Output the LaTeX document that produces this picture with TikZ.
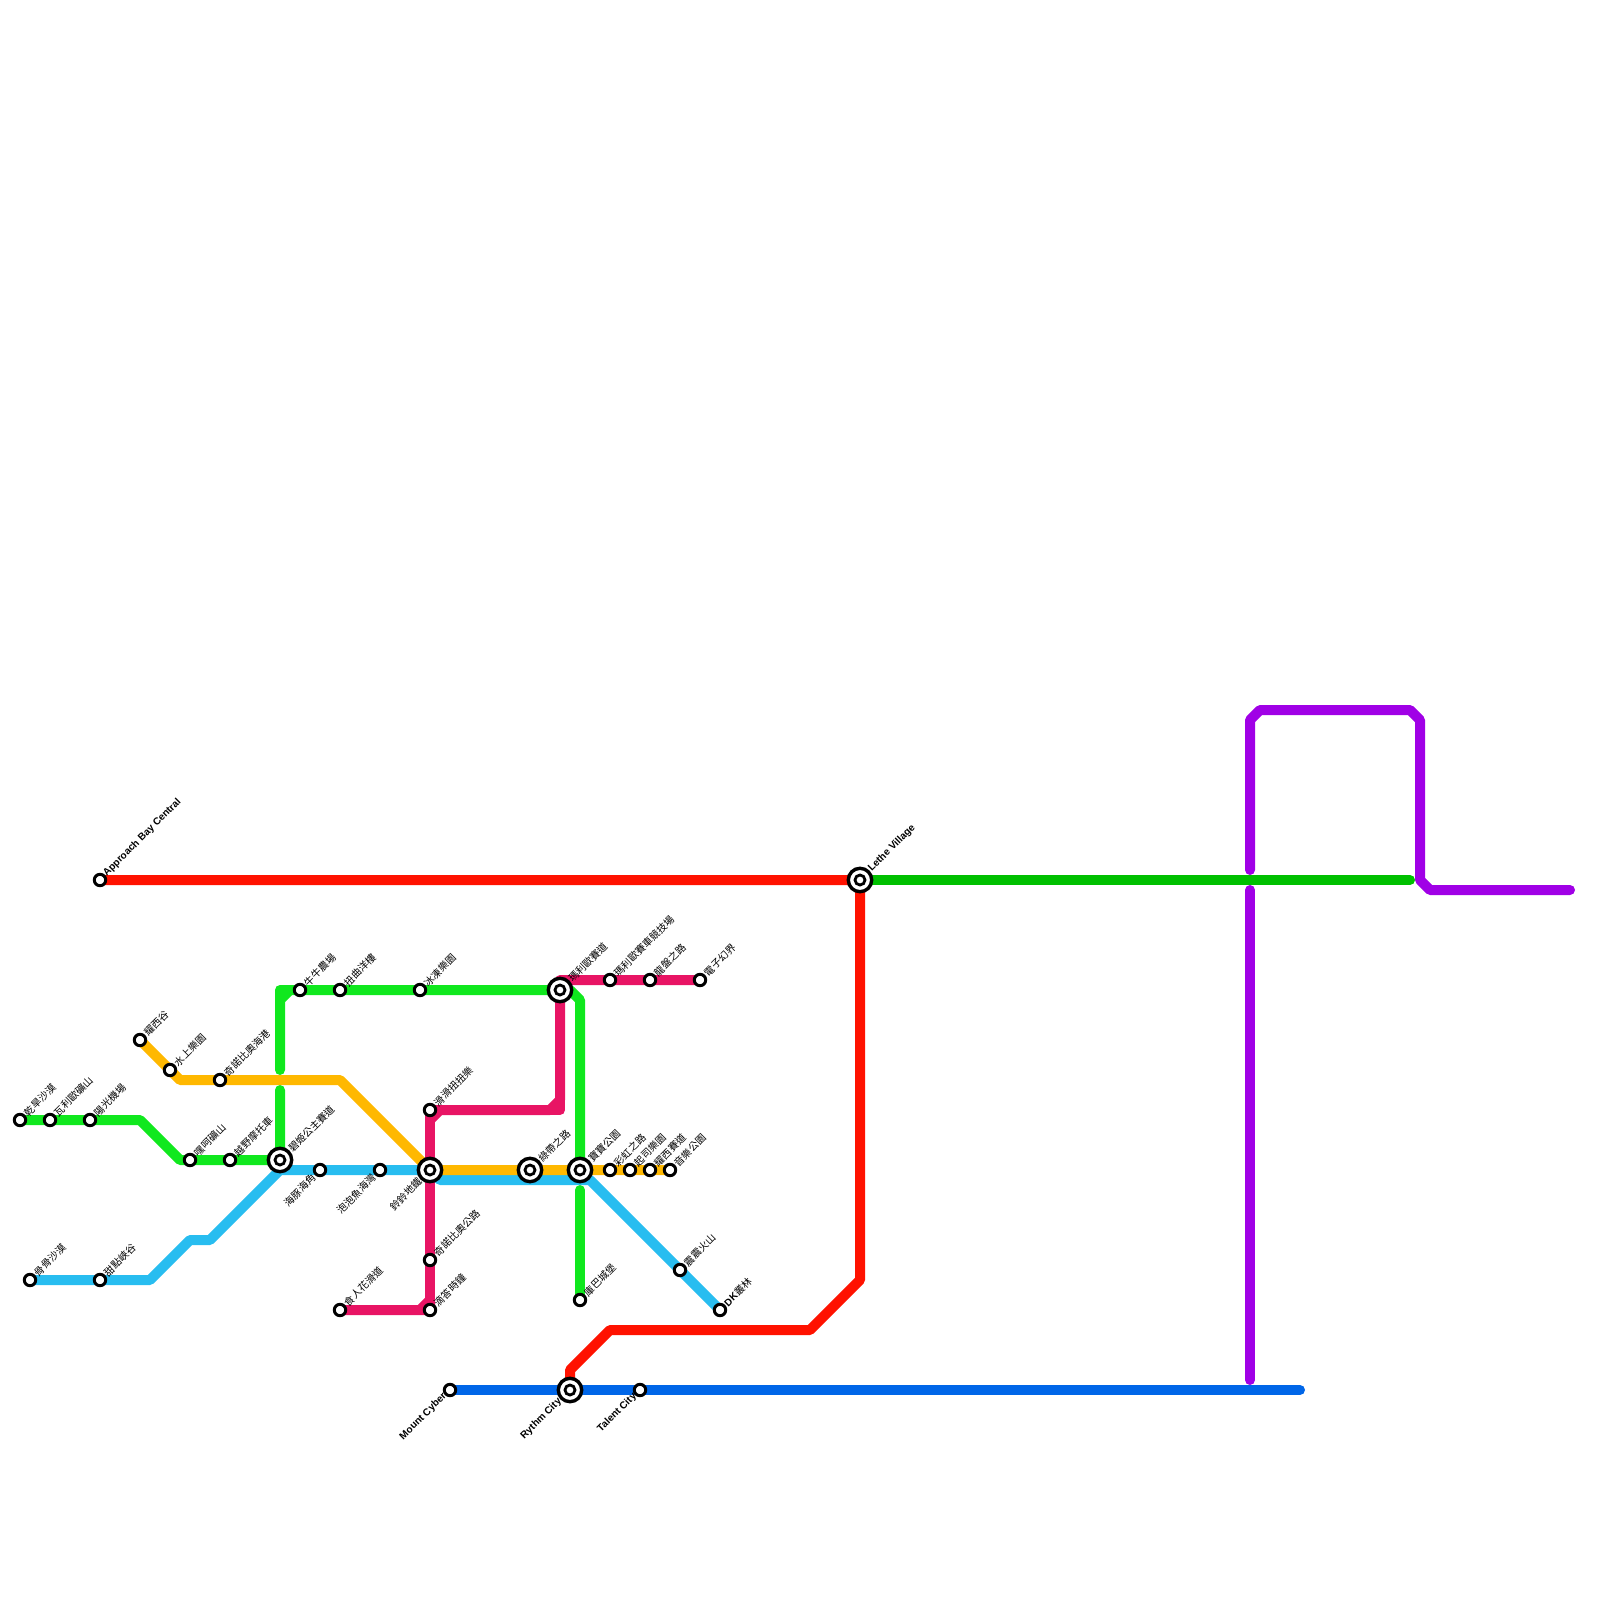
\documentclass[tikz,border=0pt]{standalone}
\usepackage{fontspec}
\setmainfont{Liberation Sans}
\newfontfamily\cjkfont{Noto Sans CJK TC}
\usetikzlibrary{backgrounds}
\definecolor{linered}{HTML}{FF1200}
\definecolor{linegreen}{HTML}{10E81E}
\definecolor{linedeep}{HTML}{00C000}
\definecolor{lineorange}{HTML}{FFB800}
\definecolor{linesky}{HTML}{28BDF0}
\definecolor{linepink}{HTML}{E81464}
\definecolor{linepurple}{HTML}{A000E6}
\definecolor{lineblue}{HTML}{0066E8}
\tikzset{
  metro/.style={line width=10pt, line cap=round, line join=round},
  stn/.style={circle, draw=black, fill=white, line width=3pt, minimum size=11.4pt, inner sep=0pt},
  hub/.style={circle, draw=black, fill=white, line width=3.4pt, minimum size=23.4pt, inner sep=0pt},
  hubcore/.style={circle, draw=black, fill=white, line width=2.8pt, minimum size=10pt, inner sep=0pt},
  % station labels
  zh/.style={font=\fontsize{10}{12}\cjkfont\selectfont, rotate=45, inner sep=0pt},
  en/.style={font=\fontsize{10}{12}\bfseries\selectfont, rotate=45, inner sep=0pt},
  ne/.style={anchor=west},
  sw/.style={anchor=east},
}
\begin{document}
\begin{tikzpicture}[x=10pt,y=-10pt]
  \useasboundingbox (0,0) rectangle (160,160);
  % plain stations, label up and to the right
  \foreach \n/\x/\y/\lab in {gan/2/112/乾旱沙漠, wmine/5/112/瓦利歐礦山, sun/9/112/陽光機場,
      yvalley/14/104/耀西谷, water/17/107/水上樂園, toadport/22/108/奇諾比奧海港,
      shy/19/116/嘿呵礦山, excite/23/116/越野摩托車, bone/3/128/骨骨沙漠, sweet/10/128/甜點峽谷,
      moo/30/99/牛牛農場, twist/34/99/扭曲洋樓, sherbet/42/99/冰凍樂園,
      stadium/61/98/瑪利歐賽車競技場, dragon/65/98/龍盤之路, electro/70/98/電子幻界,
      wiggle/43/111/滑滑扭扭樂, toadway/43/126/奇諾比奧公路, tick/43/131/滴答時鐘, piranha/34/131/食人花滑道,
      rainbow/61/117/彩虹之路, cheese/63/117/起司樂園, ycircuit/65/117/耀西賽道, melody/67/117/音樂公園,
      grumble/68/127/震震火山, bowser/58/130/庫巴城堡} {
    \node[stn] (\n) at (\x,\y) {};
    \node[zh, ne] (\n-lab) at (\x+0.55,\y-0.55) {\lab};
  }
  \node[stn] (dk) at (72,131) {};
  \node[zh, ne] (dk-lab) at (72.55,130.45) {{\fontsize{10}{12}\bfseries\rmfamily\selectfont DK}叢林};
  % plain stations, label down and to the left
  \foreach \n/\x/\y/\lab in {dolphin/32/117/海豚海角, cheep/38/117/泡泡魚海灣} {
    \node[stn] (\n) at (\x,\y) {};
    \node[zh, sw] (\n-lab) at (\x-0.6,\y+0.6) {\lab};
  }
  % interchanges
  \foreach \n/\x/\y/\lab in {royal/28/116/碧姬公主賽道, mario/56/99/瑪利歐賽道,
      ribbon/53/117/綠帶之路, baby/58/117/寶寶公園} {
    \node[hub] (\n) at (\x,\y) {};
    \node[hubcore] (\n-core) at (\x,\y) {};
    \node[zh, ne] (\n-lab) at (\x+1,\y-1) {\lab};
  }
  \node[hub] (bell) at (43,117) {};
  \node[hubcore] (bell-core) at (43,117) {};
  \node[zh, sw] (bell-lab) at (42,118) {鈴鈴地鐵};
  \node[hub] (rythm) at (57,139) {};
  \node[hubcore] (rythm-core) at (57,139) {};
  \node[en, sw] (rythm-lab) at (56,140) {Rythm City};
  \node[hub] (lethe) at (86,88) {};
  \node[hubcore] (lethe-core) at (86,88) {};
  \node[en, ne] (lethe-lab) at (87,87) {Lethe Village};
  % the other English stations
  \node[stn] (approach) at (10,88) {};
  \node[en, ne] (approach-lab) at (10.5,87.5) {Approach Bay Central};
  \node[stn] (cyber) at (45,139) {};
  \node[en, sw] (cyber-lab) at (44.5,139.5) {Mount Cyber};
  \node[stn] (talent) at (64,139) {};
  \node[en, sw] (talent-lab) at (63.5,139.5) {Talent City};
  % bends and free ends of the lines
  \foreach \n/\x/\y in {g1/14/112, g2/18/116, g3/28/107, g4/28/109, g5/28/100, g6/28/99, g7/29/99,
      g8/57/99, g9/58/100, g10/58/119,
      o1/18/108, o2/34/108,
      s1/15/128, s2/19/124, s3/21/124, s4/44/118, s5/59/118, s6/28/117,
      p1/43/112, p2/44/111, p3/55/111, p4/56/110, p5/56/111, p6/56/98, p7/42/131, p8/43/130,
      r1/86/128, r2/81/133, r3/61/133, r4/57/137,
      d1/141/88, b1/130/139,
      v1/125/138, v2/125/89, v3/125/87, v4/125/72, v5/126/71, v6/141/71, v7/142/72, v8/142/88, v9/143/89, v10/157/89} {
    \coordinate (\n) at (\x,\y);
  }
  \begin{scope}[on background layer]
    % green, with the gap where the orange passes
    \draw[metro, linegreen] (gan.center) -- (wmine.center) -- (sun.center) -- (g1) -- (g2) -- (shy.center) -- (excite.center) -- (royal.center) -- (g4);
    \draw[metro, linegreen] (g3) -- (g5) -- (g7) -- (moo.center) -- (twist.center) -- (sherbet.center) -- (mario.center) -- (g8) -- (g9) -- (baby.center);
    \draw[metro, linegreen] (g5) -- (g6) -- (g7);
    \draw[metro, linegreen] (g10) -- (bowser.center);
    % sky blue
    \draw[metro, linesky] (bone.center) -- (sweet.center) -- (s1) -- (s2) -- (s3) -- (s6) -- (dolphin.center) -- (cheep.center) -- (bell.center) -- (s4) -- (s5) -- (grumble.center) -- (dk.center);
    % pink
    \draw[metro, linepink] (wiggle.center) -- (bell.center) -- (toadway.center) -- (tick.center);
    \draw[metro, linepink] (p1) -- (p2) -- (p3) -- (p4) -- (mario.center) -- (p6) -- (stadium.center) -- (dragon.center) -- (electro.center);
    \draw[metro, linepink] (wiggle.center) -- (p3) -- (p5) -- (p4);
    \draw[metro, linepink] (piranha.center) -- (tick.center) -- (p8) -- (p7);
    % orange
    \draw[metro, lineorange] (yvalley.center) -- (water.center) -- (o1) -- (toadport.center) -- (o2) -- (bell.center) -- (ribbon.center) -- (baby.center) -- (rainbow.center) -- (cheese.center) -- (ycircuit.center) -- (melody.center);
    % red, then the deep green on to the purple
    \draw[metro, linered] (approach.center) -- (lethe.center) -- (r1) -- (r2) -- (r3) -- (r4) -- (rythm.center);
    \draw[metro, linedeep] (lethe.center) -- (d1);
    % blue
    \draw[metro, lineblue] (cyber.center) -- (rythm.center) -- (talent.center) -- (b1);
    % purple, broken round the deep green
    \draw[metro, linepurple] (v1) -- (v2);
    \draw[metro, linepurple] (v3) -- (v4) -- (v5) -- (v6) -- (v7) -- (v8) -- (v9) -- (v10);
  \end{scope}
\end{tikzpicture}
\end{document}
